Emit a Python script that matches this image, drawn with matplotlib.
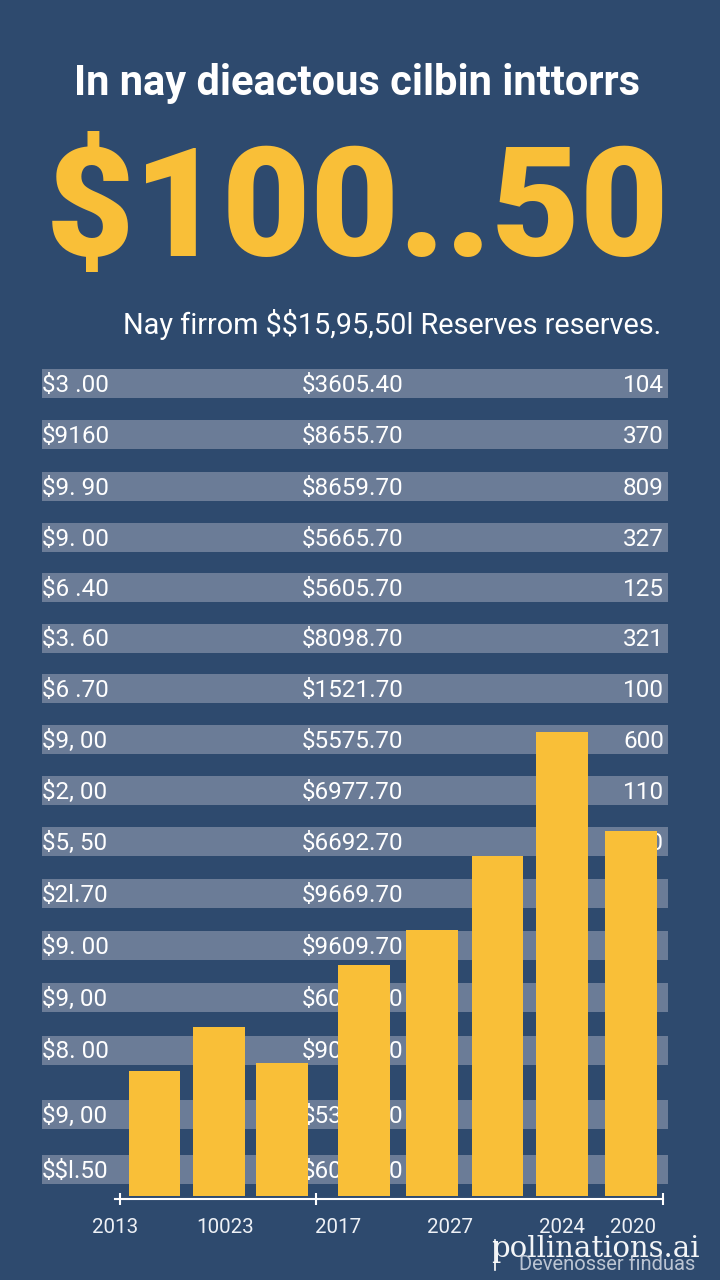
import matplotlib
matplotlib.use("Agg")
import matplotlib.pyplot as plt

# ---------------- data ----------------
title = "In nay dieactous cilbin inttorrs"
headline = "$100..50"
subtitle = "Nay firrom $$15,95,50l Reserves reserves."

left_labels = ["$3 .00", "$9160", "$9. 90", "$9. 00", "$6 .40", "$3. 60",
               "$6 .70", "$9, 00", "$2, 00", "$5, 50", "$2l.70", "$9. 00",
               "$9, 00", "$8. 00", "$9, 00", "$$l.50"]
mid_labels = ["$3605.40", "$8655.70", "$8659.70", "$5665.70", "$5605.70", "$8098.70",
              "$1521.70", "$5575.70", "$6977.70", "$6692.70", "$9669.70", "$9609.70",
              "$6009.70", "$9000.70", "$5369.70", "$6089.70"]
right_labels = ["104", "370", "809", "327", "125", "321", "100", "600", "110", "140",
                "", "", "", "", "", ""]

bar_values = [125, 169, 133, 231, 266, 340, 464, 365]
year_labels = ["2013", "10023", "2017", "2027", "2024", "2020"]

# ---------------- layout / style ----------------
BG = "#2e4a6e"
STRIPE = "#6b7c97"
YELLOW = "#f9bf38"
W, H = 720, 1280

row_y = [383.5, 434.5, 486.5, 537.5, 587.5, 638, 688.5, 739.5, 790.5,
         841.5, 893, 945, 997, 1050, 1114.5, 1169]
stripe_left, stripe_width, stripe_h = 42, 626, 29

bar_pos = [35, 100, 163.5, 246.5, 315, 381, 446, 515.5]   # px from axis start
bar_w = 52
year_pos = [-5, 106, 220, 333, 446, 518]
major_ticks = [0, 198, 548]

plt.rcParams['font.family'] = ['Roboto', 'DejaVu Sans']
plt.rcParams['text.parse_math'] = False

fig = plt.figure(figsize=(7.2, 12.8), dpi=100, facecolor=BG)

# background axes in pixel coordinates
bg = fig.add_axes([0, 0, 1, 1])
bg.set_xlim(0, W)
bg.set_ylim(H, 0)
bg.axis("off")
bg.set_facecolor(BG)

bg.barh(row_y, stripe_width, left=stripe_left, height=stripe_h, color=STRIPE, zorder=1)
for y, l, m, r in zip(row_y, left_labels, mid_labels, right_labels):
    bg.text(stripe_left, y + 2, l, ha="left", va="center", color="white", fontsize=17.5, zorder=2)
    bg.text(302, y + 2, m, ha="left", va="center", color="white", fontsize=17.5, zorder=2)
    if r:
        bg.text(664, y + 2, r, ha="right", va="center", color="white", fontsize=17.5, zorder=2)

# headings
fig.text(357 / W, 1 - 83 / H, title, ha="center", va="center", color="white",
         fontsize=30, fontweight="bold")
fig.text(357 / W, 1 - 214 / H, headline, ha="center", va="center", color=YELLOW,
         fontsize=110, fontweight="heavy")
fig.text(661 / W, 1 - 325 / H, subtitle, ha="right", va="center", color="white",
         fontsize=20.8)

# bar chart axes
ax_left, ax_right = 115, 663
ax_bottom, ax_top = 1199, 700
ax = fig.add_axes([ax_left / W, 1 - ax_bottom / H, (ax_right - ax_left) / W, (ax_bottom - ax_top) / H])
ax.patch.set_alpha(0)
ax.set_xlim(0, ax_right - ax_left)
ax.set_ylim(-3, ax_bottom - ax_top - 3)
ax.bar(bar_pos, bar_values, width=bar_w, color=YELLOW, zorder=3)
for s in ["top", "left", "right"]:
    ax.spines[s].set_visible(False)
ax.spines["bottom"].set_color("white")
ax.spines["bottom"].set_linewidth(1.5)
ax.set_yticks([])
ax.set_xticks(major_ticks, labels=[""] * len(major_ticks))
ax.tick_params(axis="x", which="major", direction="inout", length=9, width=1.5, color="white")
ax.set_xticks(year_pos, labels=year_labels, minor=True)
ax.tick_params(axis="x", which="minor", length=0, pad=14, labelsize=14.8, labelcolor="#eef1f6")

# watermark
fig.text(700 / W, 1 - 1249 / H, "pollinations.ai", ha="right", va="center", color="white",
         fontsize=21, family=["DejaVu Serif"], alpha=0.95)
fig.text(695 / W, 1 - 1264 / H, "Devenosser finduas", ha="right", va="center", color="#d5dbe5",
         fontsize=14.5, alpha=0.85)
fig.add_artist(plt.Line2D([495 / W, 495 / W], [1 - 1240 / H, 1 - 1270 / H], color="white", lw=1.2))

fig.savefig("out.png", dpi=100, facecolor=BG)
